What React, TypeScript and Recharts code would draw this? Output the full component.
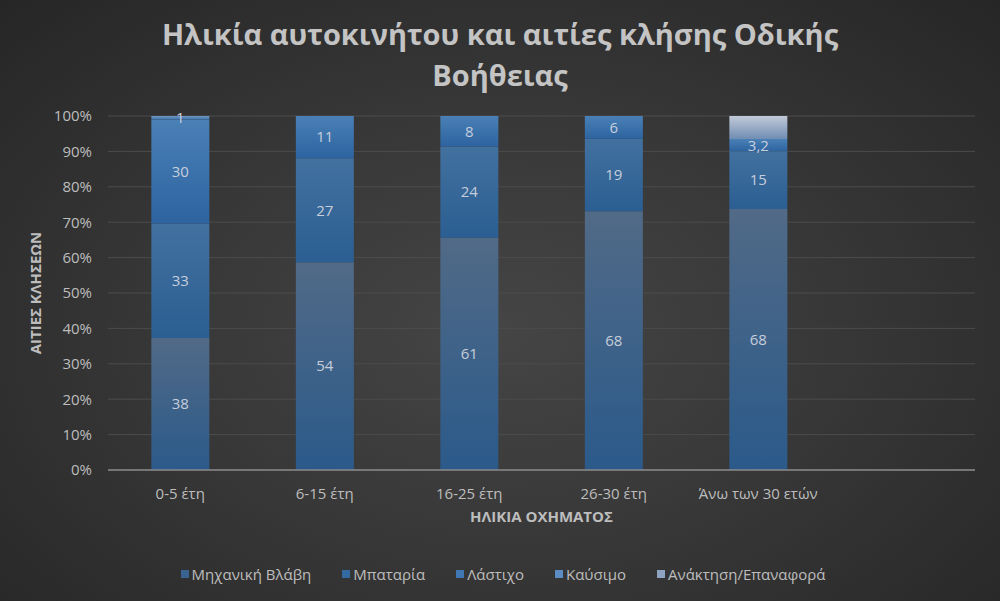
import React from 'react';
import { BarChart, Bar, XAxis, YAxis, CartesianGrid, LabelList } from 'recharts';

const categories = ['0-5 έτη', '6-15 έτη', '16-25 έτη', '26-30 έτη', 'Άνω των 30 ετών', ''];
const mechanical = [38, 54, 61, 68, 68, 0];
const battery = [33, 27, 24, 19, 15, 0];
const tire = [30, 11, 8, 6, 3.2, 0];
const fuel = [1, 0, 0, 0, 0, 0];
const recovery = [0, 0, 0, 0, 6, 0];
const yTicks = [0, 0.1, 0.2, 0.3, 0.4, 0.5, 0.6, 0.7, 0.8, 0.9, 1];

const seriesNames = ['Μηχανική Βλάβη', 'Μπαταρία', 'Λάστιχο', 'Καύσιμο', 'Ανάκτηση/Επαναφορά'];

const data = categories.map((cat, i) => ({
  cat,
  mechanical: mechanical[i],
  battery: battery[i],
  tire: tire[i],
  fuel: fuel[i],
  recovery: recovery[i],
}));

// top / bottom shade of each series
const SERIES = [
  { key: 'mechanical', top: '#516a87', bottom: '#2b5a8a', legend: '#3a6391', labels: true },
  { key: 'battery', top: '#42719f', bottom: '#2b5e92', legend: '#336aa3', labels: true },
  { key: 'tire', top: '#4a80b6', bottom: '#2d64a0', legend: '#3f78b5', labels: true },
  { key: 'fuel', top: '#6f98c6', bottom: '#3f74ad', legend: '#5b8cc4', labels: true },
  { key: 'recovery', top: '#c2cad8', bottom: '#6f8db3', legend: '#8ea3c2', labels: false },
];

const fmt = (v: any) => (v ? String(v).replace('.', ',') : '');

export default function App() {
  return (
    <div
      style={{
        position: 'absolute',
        left: 0,
        top: 0,
        width: 1000,
        height: 601,
        background: 'radial-gradient(ellipse at 50% 55%, #454545 0%, #383838 45%, #262626 100%)',
        fontFamily: 'Open Sans, sans-serif',
      }}
    >
      {/* Title */}
      <div
        style={{
          position: 'absolute',
          top: 13,
          left: 0,
          width: 1000,
          textAlign: 'center',
          color: '#c4c4c4',
          fontSize: 29,
          fontWeight: 700,
          lineHeight: '41px',
        }}
      >
        Ηλικία αυτοκινήτου και αιτίες κλήσης Οδικής
        <br />
        Βοήθειας
      </div>

      <BarChart
        width={1000}
        height={601}
        data={data}
        stackOffset="expand"
        barCategoryGap="30%"
        margin={{ top: 116, right: 25, bottom: 101, left: 48 }}
      >
        <defs>
          {SERIES.map((s) => (
            <linearGradient key={s.key} id={`g-${s.key}`} x1="0" y1="0" x2="0" y2="1">
              <stop offset="0%" stopColor={s.top} />
              <stop offset="100%" stopColor={s.bottom} />
            </linearGradient>
          ))}
        </defs>
        <CartesianGrid vertical={false} stroke="#4c4c4c" />
        <XAxis
          dataKey="cat"
          tickLine={false}
          axisLine={{ stroke: '#8a8a8a', strokeWidth: 1.5 }}
          tick={{ fill: '#bdbdbd', fontSize: 15 }}
          tickMargin={12}
          label={{
            value: 'ΗΛΙΚΙΑ ΟΧΗΜΑΤΟΣ',
            position: 'insideBottom',
            offset: -22,
            fill: '#bdbdbd',
            fontSize: 15,
            fontWeight: 700,
          }}
        />
        <YAxis
          width={60}
          domain={[0, 1]}
          ticks={yTicks}
          tickFormatter={(v) => `${Math.round(v * 100)}%`}
          axisLine={false}
          tickLine={false}
          tick={{ fill: '#bdbdbd', fontSize: 15 }}
          tickMargin={10}
          label={{
            value: 'ΑΙΤΙΕΣ ΚΛΗΣΕΩΝ',
            angle: -90,
            position: 'insideLeft',
            offset: -12,
            textAnchor: 'middle',
            fill: '#bdbdbd',
            fontSize: 15,
            fontWeight: 700,
          }}
        />
        {SERIES.map((s, i) => (
          <Bar
            key={s.key}
            dataKey={s.key}
            name={seriesNames[i]}
            stackId="a"
            fill={`url(#g-${s.key})`}
            isAnimationActive={false}
          >
            {s.labels && (
              <LabelList dataKey={s.key} position="center" formatter={fmt} fill="#c6cedb" fontSize={15} />
            )}
          </Bar>
        ))}
      </BarChart>

      {/* Legend */}
      <div
        style={{
          position: 'absolute',
          top: 564,
          left: 0,
          width: 1000,
          display: 'flex',
          justifyContent: 'center',
          gap: 31,
          fontSize: 15,
          color: '#bdbdbd',
          paddingLeft: 6,
          boxSizing: 'border-box',
        }}
      >
        {seriesNames.map((name, i) => (
          <div key={name} style={{ display: 'flex', alignItems: 'center' }}>
            <span
              style={{ width: 8, height: 8, background: SERIES[i].legend, display: 'inline-block', marginRight: 3 }}
            />
            {name}
          </div>
        ))}
      </div>
    </div>
  );
}
